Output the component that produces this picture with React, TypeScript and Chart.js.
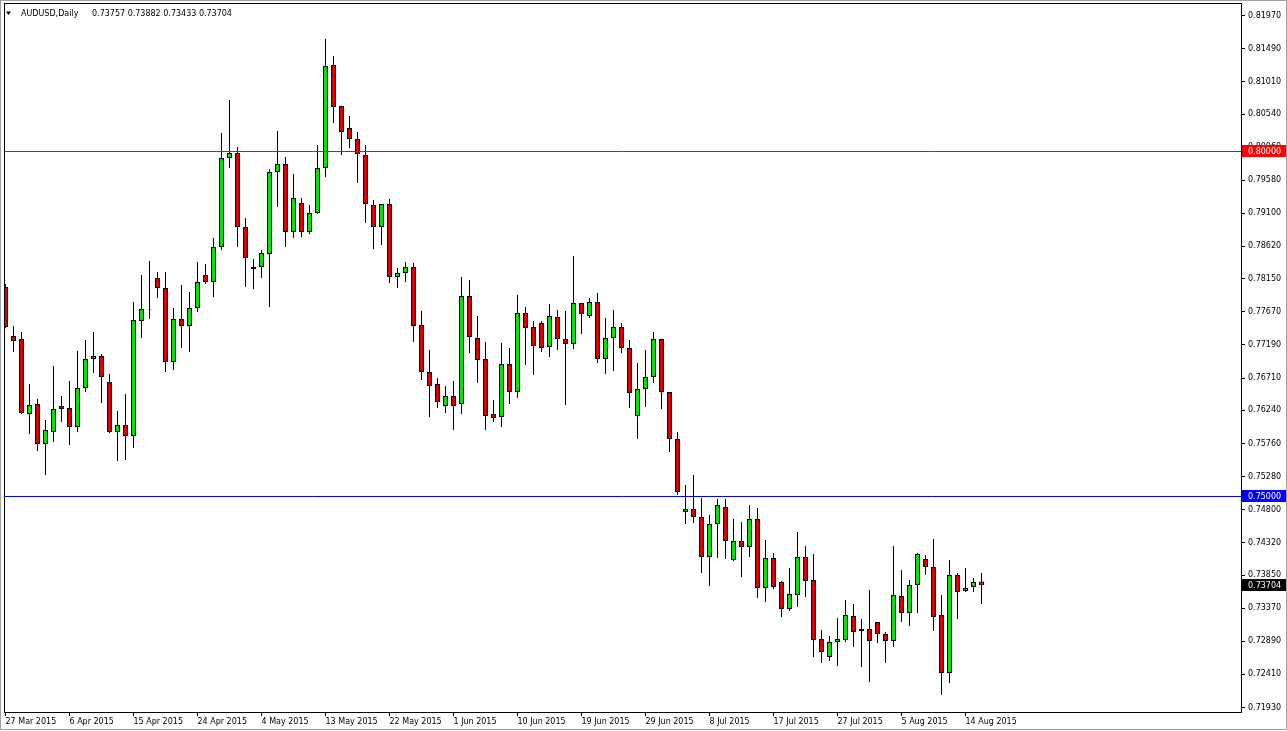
import React, { useEffect, useRef } from 'react';
import { Chart, registerables } from 'chart.js';

Chart.register(...registerables);

// ---------------- DATA ----------------
const symbolTitle = 'AUDUSD,Daily';

const opens = [
  0.78031, 0.77320, 0.77277, 0.76188, 0.76333, 0.75753, 0.75927, 0.76304, 0.76275, 0.76000,
  0.76565, 0.76986, 0.77030, 0.76652, 0.75927, 0.76028, 0.75869, 0.77537, 0.77711, 0.78162,
  0.78016, 0.76943, 0.77566, 0.77465, 0.77726, 0.78205, 0.78103, 0.78612, 0.79903, 0.79975,
  0.78901, 0.78292, 0.78321, 0.78510, 0.79700, 0.79816, 0.78829, 0.79249, 0.78829, 0.79104,
  0.79758, 0.81252, 0.80657, 0.80338, 0.80179, 0.79946, 0.79220, 0.78901, 0.79235, 0.78176,
  0.78234, 0.78321, 0.77480, 0.76798, 0.76623, 0.76304, 0.76449, 0.76333, 0.77900, 0.77291,
  0.76986, 0.76188, 0.76144, 0.76914, 0.76507, 0.77653, 0.77451, 0.77508, 0.77161, 0.77595,
  0.77277, 0.77204, 0.77798, 0.77610, 0.77813, 0.76986, 0.77291, 0.77451, 0.77146, 0.76159,
  0.76551, 0.76725, 0.77277, 0.76507, 0.75826, 0.74766, 0.74809, 0.74693, 0.74113, 0.74592,
  0.74838, 0.74070, 0.74346, 0.74259, 0.74664, 0.73663, 0.74099, 0.73750, 0.73358, 0.73562,
  0.74113, 0.73779, 0.72924, 0.72662, 0.72880, 0.72909, 0.73257, 0.73040, 0.73069, 0.73170,
  0.72996, 0.72895, 0.73547, 0.73300, 0.73707, 0.74084, 0.73968, 0.73271, 0.72430, 0.73852,
  0.73620, 0.73678, 0.73757,
];

const highs = [
  0.78074, 0.77465, 0.77378, 0.76623, 0.76406, 0.76101, 0.76885, 0.76449, 0.76667, 0.77102,
  0.77262, 0.77378, 0.77059, 0.76768, 0.76231, 0.76478, 0.77813, 0.78205, 0.78408, 0.78249,
  0.78249, 0.77726, 0.78060, 0.77958, 0.78394, 0.78365, 0.78742, 0.80266, 0.80744, 0.80063,
  0.79032, 0.78437, 0.78568, 0.79743, 0.80295, 0.79917, 0.79671, 0.79322, 0.79220, 0.80092,
  0.81630, 0.81383, 0.80657, 0.80512, 0.80280, 0.80092, 0.79293, 0.79235, 0.79308, 0.78307,
  0.78394, 0.78379, 0.77682, 0.77117, 0.76710, 0.76594, 0.76667, 0.78176, 0.78133, 0.77610,
  0.77233, 0.76391, 0.77219, 0.77146, 0.77915, 0.77740, 0.77537, 0.77537, 0.77784, 0.77697,
  0.77682, 0.78481, 0.77798, 0.77871, 0.77944, 0.77581, 0.77697, 0.77508, 0.77262, 0.76928,
  0.77117, 0.77378, 0.77277, 0.76507, 0.75927, 0.75158, 0.75303, 0.74969, 0.74722, 0.74955,
  0.74955, 0.74664, 0.74621, 0.74867, 0.74824, 0.74360, 0.74171, 0.73765, 0.73954, 0.74476,
  0.74273, 0.74157, 0.73054, 0.72967, 0.73228, 0.73489, 0.73431, 0.73213, 0.73634, 0.73170,
  0.73025, 0.74273, 0.73925, 0.73779, 0.74171, 0.74142, 0.74375, 0.73562, 0.74070, 0.73881,
  0.73954, 0.73808, 0.73882,
];

const lows = [
  0.77436, 0.77088, 0.76188, 0.75898, 0.75651, 0.75303, 0.75782, 0.76072, 0.75739, 0.75927,
  0.76507, 0.76783, 0.76347, 0.75913, 0.75506, 0.75521, 0.75695, 0.77291, 0.77566, 0.77871,
  0.76798, 0.76827, 0.77146, 0.77088, 0.77668, 0.78074, 0.77886, 0.78568, 0.79758, 0.78612,
  0.78031, 0.78002, 0.78162, 0.77740, 0.79191, 0.78612, 0.78742, 0.78757, 0.78800, 0.79090,
  0.79627, 0.80410, 0.79946, 0.80048, 0.79540, 0.78959, 0.78583, 0.78641, 0.78089, 0.78016,
  0.78103, 0.77233, 0.76681, 0.76144, 0.76275, 0.76202, 0.75956, 0.76188, 0.77073, 0.76638,
  0.75956, 0.76072, 0.76000, 0.76333, 0.76420, 0.76899, 0.76754, 0.77088, 0.77015, 0.77117,
  0.76318, 0.77132, 0.77349, 0.77581, 0.76928, 0.76768, 0.76812, 0.77073, 0.76275, 0.75826,
  0.76289, 0.76638, 0.76260, 0.75637, 0.75013, 0.74592, 0.74606, 0.73881, 0.73692, 0.74099,
  0.74084, 0.74055, 0.73823, 0.74113, 0.73518, 0.73460, 0.73649, 0.73242, 0.73329, 0.73387,
  0.73533, 0.72662, 0.72575, 0.72604, 0.72532, 0.72880, 0.72808, 0.72517, 0.72299, 0.72866,
  0.72575, 0.72808, 0.73170, 0.73112, 0.73300, 0.73852, 0.73040, 0.72111, 0.72285, 0.73213,
  0.73605, 0.73605, 0.73433,
];

const closes = [
  0.77451, 0.77248, 0.76202, 0.76318, 0.75753, 0.75956, 0.76260, 0.76260, 0.76000, 0.76565,
  0.76986, 0.77030, 0.76725, 0.75927, 0.76028, 0.75869, 0.77552, 0.77711, 0.77704, 0.78016,
  0.76943, 0.77566, 0.77465, 0.77726, 0.78103, 0.78103, 0.78612, 0.79903, 0.79975, 0.78901,
  0.78452, 0.78321, 0.78524, 0.79700, 0.79816, 0.78829, 0.79322, 0.78829, 0.79104, 0.79758,
  0.81238, 0.80642, 0.80280, 0.80179, 0.79961, 0.79235, 0.78901, 0.79235, 0.78176, 0.78234,
  0.78321, 0.77465, 0.76798, 0.76594, 0.76362, 0.76449, 0.76304, 0.77900, 0.77306, 0.76972,
  0.76159, 0.76130, 0.76914, 0.76507, 0.77653, 0.77436, 0.77175, 0.77146, 0.77610, 0.77277,
  0.77204, 0.77798, 0.77639, 0.77813, 0.76986, 0.77291, 0.77451, 0.77146, 0.76493, 0.76551,
  0.76725, 0.77277, 0.76507, 0.75826, 0.75056, 0.74809, 0.74693, 0.74113, 0.74592, 0.74867,
  0.74346, 0.74346, 0.74259, 0.74664, 0.73663, 0.74099, 0.73678, 0.73358, 0.73576, 0.74113,
  0.73765, 0.72909, 0.72735, 0.72880, 0.72924, 0.73271, 0.73025, 0.73069, 0.72895, 0.72996,
  0.72895, 0.73562, 0.73300, 0.73707, 0.74157, 0.73968, 0.73242, 0.72430, 0.73852, 0.73605,
  0.73663, 0.73750, 0.73704,
];

// date labels shown every 8 bars on the time axis
const dateLabels = [
  '27 Mar 2015', '6 Apr 2015', '15 Apr 2015', '24 Apr 2015', '4 May 2015', '13 May 2015',
  '22 May 2015', '1 Jun 2015', '10 Jun 2015', '19 Jun 2015', '29 Jun 2015', '8 Jul 2015',
  '17 Jul 2015', '27 Jul 2015', '5 Aug 2015', '14 Aug 2015',
];
const barsPerDateLabel = 8;

const priceTicks = [
  0.81970, 0.81490, 0.81010, 0.80540, 0.80060, 0.79580, 0.79100, 0.78620, 0.78150, 0.77670,
  0.77190, 0.76710, 0.76240, 0.75760, 0.75280, 0.74800, 0.74320, 0.73850, 0.73370, 0.72890,
  0.72410, 0.71930,
];

const levelValues = [0.80000, 0.75000];

// ---------------- STYLE / LAYOUT ----------------
const W = 1287;
const H = 731;
const FONT = '"DejaVu Sans", Verdana, Tahoma, sans-serif';
const BULL = '#00e400';
const BEAR = '#dc0000';
const LEVEL_COLORS = ['rgb(255,0,0)', 'rgb(0,0,255)'];
const PAD_LEFT = 4;
const PAD_TOP = 3;
const Y_AXIS_W = 46;
const X_AXIS_H = 18;
const BAR_PX = 8;
const PLOT_W = W - PAD_LEFT - Y_AXIS_W;
const X_MIN = -1.5 / BAR_PX;
const X_MAX = X_MIN + PLOT_W / BAR_PX;
const Y_MIN = 0.7185;
const Y_MAX = 0.82151;

const fmt = (v: number) => v.toFixed(5);

const decorPlugin = {
  id: 'mtDecor',
  beforeDraw(chart: any) {
    const ctx = chart.ctx;
    ctx.save();
    ctx.fillStyle = '#ffffff';
    ctx.fillRect(0, 0, chart.width, chart.height);
    ctx.restore();
  },
  afterDraw(chart: any) {
    const ctx = chart.ctx;
    const a = chart.chartArea;
    const ys = chart.scales.y;
    ctx.save();
    ctx.setLineDash([]);
    ctx.globalAlpha = 1;
    ctx.lineWidth = 1;
    // horizontal level lines
    levelValues.forEach((v, k) => {
      const y = Math.round(ys.getPixelForValue(v)) + 0.5;
      ctx.strokeStyle = LEVEL_COLORS[k];
      ctx.beginPath();
      ctx.moveTo(a.left, y);
      ctx.lineTo(a.right, y);
      ctx.stroke();
    });
    // plot frame
    ctx.strokeStyle = '#000000';
    ctx.strokeRect(a.left + 0.5, a.top + 0.5, a.right - a.left, a.bottom - a.top - 1);
    // price boxes on the axis
    const boxes: [number, string][] = [
      [levelValues[0], LEVEL_COLORS[0]],
      [levelValues[1], LEVEL_COLORS[1]],
      [closes[closes.length - 1], '#000000'],
    ];
    ctx.font = `8px ${FONT}`;
    ctx.textBaseline = 'middle';
    ctx.textAlign = 'left';
    boxes.forEach(([v, c]) => {
      const y = Math.round(ys.getPixelForValue(v));
      ctx.fillStyle = c;
      ctx.fillRect(a.right + 1, y - 6, 44, 12);
      ctx.fillStyle = '#ffffff';
      ctx.fillText(fmt(v), a.right + 7, y + 0.5);
    });
    // header
    ctx.fillStyle = '#000000';
    ctx.beginPath();
    ctx.moveTo(6, 11.5);
    ctx.lineTo(11, 11.5);
    ctx.lineTo(8.5, 15);
    ctx.closePath();
    ctx.fill();
    ctx.textBaseline = 'alphabetic';
    ctx.fillText(symbolTitle, 21, 16);
    const last = opens.length - 1;
    ctx.fillText(
      [opens[last], highs[last], lows[last], closes[last]].map(fmt).join(' '),
      92,
      16,
    );
    // window frame
    ctx.strokeStyle = '#a0a0a0';
    ctx.strokeRect(0.5, 0.5, chart.width - 1, chart.height - 2);
    ctx.restore();
  },
};

export default function App() {
  const ref = useRef<HTMLCanvasElement | null>(null);

  useEffect(() => {
    if (!ref.current) return;
    const idx = opens.map((_, i) => i);
    const chart = new Chart(ref.current, {
      type: 'bar',
      data: {
        datasets: [
          {
            label: 'body',
            order: 0,
            data: idx.map((i) => ({ x: i, y: [opens[i], closes[i]] })) as any,
            backgroundColor: idx.map((i) => (closes[i] >= opens[i] ? BULL : BEAR)),
            borderColor: '#000000',
            borderWidth: 1,
            borderSkipped: false,
            barThickness: 5,
            inflateAmount: 0,
            grouped: false,
          } as any,
          {
            label: 'wick',
            order: 1,
            data: idx.map((i) => ({ x: i, y: [lows[i], highs[i]] })) as any,
            backgroundColor: '#000000',
            borderWidth: 0,
            barThickness: 1,
            inflateAmount: 0,
            grouped: false,
          } as any,
        ],
      },
      options: {
        animation: false,
        responsive: false,
        maintainAspectRatio: false,
        events: [],
        layout: { padding: { left: PAD_LEFT, top: PAD_TOP, right: 0, bottom: 0 } },
        plugins: {
          legend: { display: false },
          tooltip: { enabled: false },
          title: { display: false },
        },
        scales: {
          x: {
            type: 'linear',
            min: X_MIN,
            max: X_MAX,
            offset: false,
            afterBuildTicks: (s: any) => {
              s.ticks = dateLabels.map((_, k) => ({ value: k * barsPerDateLabel }));
            },
            afterFit: (s: any) => {
              s.height = X_AXIS_H;
              s.paddingLeft = 0;
              s.paddingRight = 0;
            },
            ticks: {
              autoSkip: false,
              maxRotation: 0,
              minRotation: 0,
              align: 'start',
              padding: 1,
              color: '#000000',
              font: { family: FONT, size: 8 },
              callback: (_v: any, i: number) => dateLabels[i],
            },
            grid: {
              offset: false,
              drawOnChartArea: false,
              drawTicks: true,
              tickLength: 3,
              color: '#000000',
            },
            border: { display: false },
          } as any,
          y: {
            type: 'linear',
            position: 'right',
            min: Y_MIN,
            max: Y_MAX,
            beginAtZero: false,
            afterBuildTicks: (s: any) => {
              s.ticks = priceTicks.map((v) => ({ value: v }));
            },
            afterFit: (s: any) => {
              s.width = Y_AXIS_W;
              s.paddingTop = 0;
              s.paddingBottom = 0;
            },
            ticks: {
              autoSkip: false,
              padding: 3,
              color: '#000000',
              font: { family: FONT, size: 8 },
              callback: (v: any) => fmt(Number(v)),
            },
            grid: {
              drawOnChartArea: false,
              drawTicks: true,
              tickLength: 4,
              color: '#000000',
            },
            border: { display: false },
          } as any,
        },
      } as any,
      plugins: [decorPlugin],
    });
    return () => chart.destroy();
  }, []);

  return (
    <div style={{ position: 'fixed', left: 0, top: 0, width: W, height: H, background: '#ffffff' }}>
      <canvas ref={ref} width={W} height={H} style={{ display: 'block', width: W, height: H }} />
    </div>
  );
}
